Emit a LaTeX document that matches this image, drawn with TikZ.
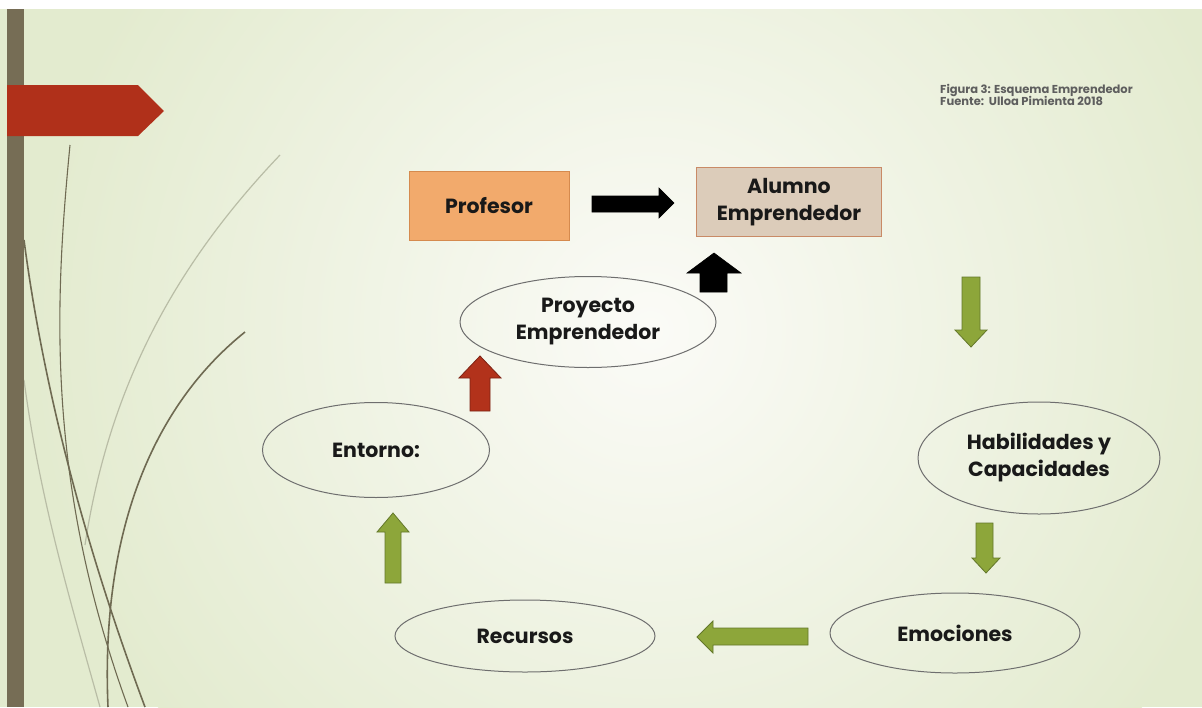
\documentclass[tikz,border=0pt]{standalone}
\usepackage{fontspec}
\setmainfont{Poppins}
\usetikzlibrary{shapes.geometric}
\definecolor{bgA}{HTML}{E3EBCF}
\definecolor{bgC}{HTML}{FBFBF7}
\definecolor{barc}{HTML}{766D55}
\definecolor{bannerc}{HTML}{B0301A}
\definecolor{profc}{HTML}{F2AA6C}
\definecolor{profb}{HTML}{D58A4E}
\definecolor{alumc}{HTML}{DCCCBA}
\definecolor{alumb}{HTML}{C98A66}
\definecolor{greenc}{HTML}{8DA63A}
\definecolor{greenb}{HTML}{63772A}
\definecolor{redc}{HTML}{B2321B}
\definecolor{redb}{HTML}{7C2213}
\definecolor{ellb}{HTML}{6E6E6E}
\definecolor{curvec}{HTML}{6F6A52}
\definecolor{curvel}{HTML}{B9BDA6}
\definecolor{capc}{HTML}{5E5E5E}
\tikzset{
  lbl/.style={font=\bfseries\fontsize{20.5}{27}\selectfont, align=center, text=black!90},
  ovalnode/.style={ellipse, draw=ellb, line width=1pt, inner sep=0pt, lbl},
  boxnode/.style={rectangle, line width=1pt, inner sep=0pt, lbl},
  greenarrow/.style={fill=greenc, draw=greenb, line width=0.8pt},
  redarrow/.style={fill=redc, draw=redb, line width=0.8pt},
  blackarrow/.style={fill=black, draw=black, line width=0.6pt},
  darkcurve/.style={draw=curvec, line width=1.6pt},
  lightcurve/.style={draw=curvel, line width=1.2pt}
}
\begin{document}
\begin{tikzpicture}[x=1pt,y=-1pt]
\useasboundingbox (0,0) rectangle (1202,707);
% background
\fill[bgA] (0,0) rectangle (1202,707);
\begin{scope}
\clip (0,0) rectangle (1202,707);
\shade[inner color=bgC, outer color=bgA] (650,330) circle (620pt);
\fill[white] (0,0) rectangle (1202,9);
% decorative curves
\draw[lightcurve] (280,155) .. controls (180,260) and (110,380) .. (85,545);
\draw[lightcurve] (24,380) .. controls (40,500) and (70,600) .. (100,707);
\draw[darkcurve] (24,240) .. controls (45,400) and (90,560) .. (145,707);
\draw[darkcurve, line width=1.1pt] (70,145) .. controls (55,300) and (45,480) .. (128,707);
\draw[darkcurve] (245,332) .. controls (160,400) and (100,520) .. (108,707);
\end{scope}
% left bar and banner
\fill[barc] (7,9) rectangle (24,707);
\fill[bannerc] (7,85) -- (138,85) -- (164,111) -- (138,136) -- (7,136) -- cycle;
% caption
\node[anchor=north west, inner sep=0pt, align=left, text=capc,
  font=\bfseries\fontsize{11.5}{12.5}\selectfont] (cap) at (940,84)
  {Figura 3: Esquema Emprendedor\\Fuente:\ \ Ulloa Pimienta 2018};
% boxes
\node[boxnode, fill=profc, draw=profb, minimum width=160pt, minimum height=69pt] (prof) at (489,206) {Profesor};
\node[boxnode, fill=alumc, draw=alumb, minimum width=185pt, minimum height=69pt] (alum) at (789,202) {Alumno\\Emprendedor};
% ellipses
\node[ovalnode, minimum width=256pt, minimum height=91pt] (proy) at (588,322) {Proyecto\\Emprendedor};
\node[ovalnode, minimum width=227pt, minimum height=95pt] (ento) at (376,450) {Entorno:};
\node[ovalnode, minimum width=260pt, minimum height=72pt] (recu) at (525,636) {Recursos};
\node[ovalnode, minimum width=250pt, minimum height=80pt] (emoc) at (955,633) {Emociones};
\node[ovalnode, minimum width=242pt, minimum height=112pt] (habi) at (1039,458) {Habilidades y\\Capacidades};
% block arrows
\draw[blackarrow] (592,196) -- (659,196) -- (659,188) -- (674,203) -- (659,218) -- (659,212) -- (592,212) -- cycle;
\draw[blackarrow] (700,292) -- (700,273) -- (687,273) -- (714,253) -- (741,273) -- (727,273) -- (727,292) -- cycle;
\draw[greenarrow] (962,277) -- (980,277) -- (980,330) -- (987,330) -- (971,347) -- (955,330) -- (962,330) -- cycle;
\draw[greenarrow] (976,523) -- (993,523) -- (993,558) -- (1000,558) -- (986,573) -- (972,558) -- (976,558) -- cycle;
\draw[greenarrow] (808,628) -- (713,628) -- (713,621) -- (697,637) -- (713,653) -- (713,645) -- (808,645) -- cycle;
\draw[greenarrow] (385,583) -- (385,532) -- (377,532) -- (393,513) -- (409,532) -- (401,532) -- (401,583) -- cycle;
\draw[redarrow] (470,411) -- (470,378) -- (459,378) -- (480,356) -- (501,378) -- (490,378) -- (490,411) -- cycle;
\end{tikzpicture}
\end{document}
